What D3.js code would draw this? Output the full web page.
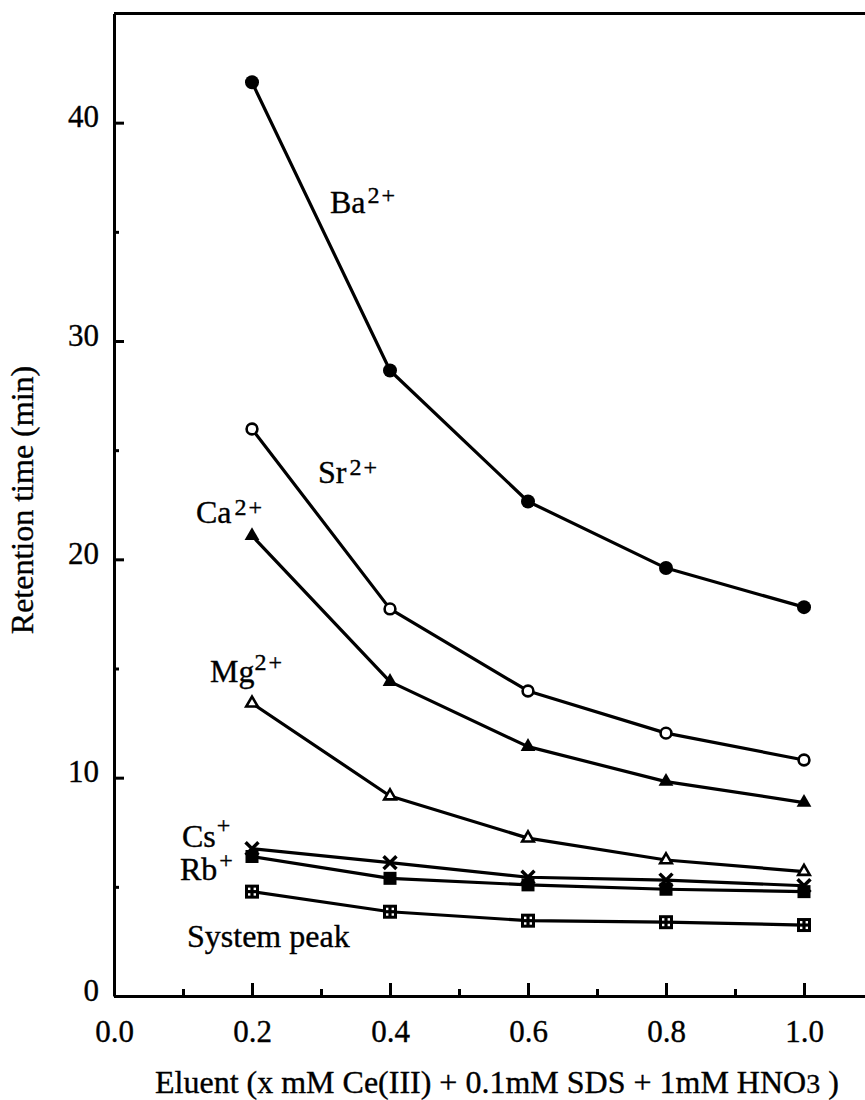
<!DOCTYPE html>
<html>
<head>
<meta charset="utf-8">
<script src="https://cdn.jsdelivr.net/npm/d3@7"></script>
<style>
  body { margin: 0; background: #fff; }
  svg { display: block; }
  text { font-family: "Liberation Serif", "Times New Roman", serif; fill: #000; stroke: #000; stroke-width: 0.35px; }
</style>
</head>
<body>
<svg id="chart" width="865" height="1100"></svg>
<script>
// Ce(III) concentration in the eluent (mM)
const eluent = [0.2, 0.4, 0.6, 0.8, 1.0];

// Retention times (min) for each ion
const ba     = [41.85, 28.65, 22.65, 19.60, 17.81];
const sr     = [25.97, 17.73, 13.97, 12.04, 10.81];
const ca     = [21.08, 14.40, 11.42, 9.82, 8.86];
const mg     = [13.41, 9.16, 7.23, 6.23, 5.70];
const cs     = [6.75, 6.11, 5.44, 5.31, 5.05];
const rb     = [6.39, 5.39, 5.09, 4.89, 4.78];
const system = [4.78, 3.86, 3.45, 3.38, 3.25];

// Axis ticks
const xTickValues = [0.0, 0.2, 0.4, 0.6, 0.8, 1.0];
const xMinorTicks = [0.1, 0.3, 0.5, 0.7, 0.9];
const yTickValues = [0, 10, 20, 30, 40];
const yMinorTicks = [5, 15, 25, 35];

const svg = d3.select("#chart");

const x = d3.scaleLinear().domain([0, 1.1]).range([114, 873]);
const y = d3.scaleLinear().domain([0, 45]).range([996, 13.5]);

const AX_W = 3;

// ---- frame: top border (right border falls outside the page) ----
svg.append("line")
  .attr("x1", x(0)).attr("x2", x(1.1))
  .attr("y1", y(45)).attr("y2", y(45))
  .attr("stroke", "#000").attr("stroke-width", AX_W);

// ---- x axis ----
const gx = svg.append("g").attr("transform", `translate(0,${y(0)})`)
  .call(d3.axisBottom(x).tickValues(xTickValues).tickSize(-13).tickSizeOuter(0)
    .tickFormat(d3.format(".1f")));
gx.select(".domain").attr("stroke-width", AX_W);
gx.selectAll(".tick line").attr("stroke-width", AX_W);
gx.selectAll(".tick text")
  .attr("y", 46).attr("dy", 0)
  .style("font-size", "31px");

const gxm = svg.append("g").attr("transform", `translate(0,${y(0)})`)
  .call(d3.axisBottom(x).tickValues(xMinorTicks).tickSize(-7).tickSizeOuter(0).tickFormat(() => ""));
gxm.select(".domain").remove();
gxm.selectAll(".tick line").attr("stroke-width", AX_W);

// ---- y axis ----
const gy = svg.append("g").attr("transform", `translate(${x(0)},0)`)
  .call(d3.axisLeft(y).tickValues(yTickValues).tickSize(-10).tickSizeOuter(0));
gy.select(".domain").attr("stroke-width", AX_W);
gy.selectAll(".tick line").attr("stroke-width", AX_W);
gy.selectAll(".tick text")
  .attr("x", -15).attr("dy", 0).attr("y", 4)
  .style("font-size", "31px");

const gym = svg.append("g").attr("transform", `translate(${x(0)},0)`)
  .call(d3.axisLeft(y).tickValues(yMinorTicks).tickSize(-5).tickSizeOuter(0).tickFormat(() => ""));
gym.select(".domain").remove();
gym.selectAll(".tick line").attr("stroke-width", AX_W);

// ---- axis titles ----
const xt = svg.append("text")
  .attr("x", 155).attr("y", 1093)
  .style("font-size", "32px");
xt.append("tspan").text("Eluent (x mM Ce(III) + 0.1mM SDS + 1mM HNO");
xt.append("tspan").style("font-size", "28px").text("3");
xt.append("tspan").text(" )");

svg.append("text")
  .attr("transform", "translate(33,500) rotate(-90)")
  .attr("text-anchor", "middle")
  .style("font-size", "32px")
  .text("Retention time (min)");

// ---- series ----
const series = [
  { name: "ba", values: ba, marker: "filledCircle" },
  { name: "sr", values: sr, marker: "openCircle" },
  { name: "ca", values: ca, marker: "filledTriangle" },
  { name: "mg", values: mg, marker: "openTriangle" },
  { name: "cs", values: cs, marker: "cross" },
  { name: "rb", values: rb, marker: "filledSquare" },
  { name: "system", values: system, marker: "dottedSquare" }
];

const line = d3.line().x((d, i) => x(eluent[i])).y(d => y(d));

svg.append("g").selectAll("path")
  .data(series)
  .join("path")
  .attr("d", s => line(s.values))
  .attr("fill", "none")
  .attr("stroke", "#000")
  .attr("stroke-width", 3.2)
  .attr("stroke-linejoin", "round");

const markers = svg.append("g");
series.forEach(s => {
  const g = markers.append("g").attr("class", "m-" + s.name);
  const pts = s.values.map((v, i) => [x(eluent[i]), y(v)]);
  pts.forEach(([px, py]) => {
    const m = g.append("g").attr("transform", `translate(${px},${py})`);
    switch (s.marker) {
      case "filledCircle":
        m.append("circle").attr("r", 7).attr("fill", "#000");
        break;
      case "openCircle":
        m.append("circle").attr("r", 5.4).attr("fill", "#fff")
          .attr("stroke", "#000").attr("stroke-width", 2.6);
        break;
      case "filledTriangle":
        m.append("path").attr("d", d3.symbol(d3.symbolTriangle, 95)()).attr("fill", "#000");
        break;
      case "openTriangle":
        m.append("path").attr("d", d3.symbol(d3.symbolTriangle, 58)()).attr("fill", "#fff")
          .attr("stroke", "#000").attr("stroke-width", 2.6).attr("stroke-linejoin", "miter");
        break;
      case "cross":
        m.append("path").attr("d", d3.symbol(d3.symbolTimes, 110)())
          .attr("fill", "none").attr("stroke", "#000").attr("stroke-width", 3.5);
        break;
      case "filledSquare":
        m.append("rect").attr("x", -6.5).attr("y", -6.5).attr("width", 13).attr("height", 13).attr("fill", "#000");
        break;
      case "dottedSquare":
        m.append("rect").attr("x", -7).attr("y", -7).attr("width", 14).attr("height", 14).attr("fill", "#000");
        [[-1, -1], [1, -1], [-1, 1], [1, 1]].forEach(([dx, dy]) => {
          m.append("rect").attr("x", dx * 2.8 - 1.2).attr("y", dy * 2.8 - 1.2)
            .attr("width", 2.4).attr("height", 2.4).attr("fill", "#fff");
        });
        break;
    }
  });
});

// ---- ion labels ----
function ionLabel(px, py, base, charge, supDx, supDy) {
  const t = svg.append("text").attr("x", px).attr("y", py).style("font-size", "32px");
  t.append("tspan").text(base);
  const sup = t.append("tspan").attr("dx", supDx).attr("dy", supDy).style("font-size", "24px");
  if (charge.length > 1) {
    sup.text(charge[0]);
    t.append("tspan").attr("dx", 2).style("font-size", "24px").text(charge.slice(1));
  } else {
    sup.text(charge);
  }
}
ionLabel(330, 213, "Ba", "2+", 2, -10);
ionLabel(318, 483, "Sr", "2+", 3, -8);
ionLabel(196, 523, "Ca", "2+", 3, -8);
ionLabel(210, 682, "Mg", "2+", 0, -12);
ionLabel(182, 847, "Cs", "+", 1, -14);
ionLabel(180, 880, "Rb", "+", 2, -12);

svg.append("text").attr("x", 187).attr("y", 947).style("font-size", "32px").text("System peak");
</script>
</body>
</html>
